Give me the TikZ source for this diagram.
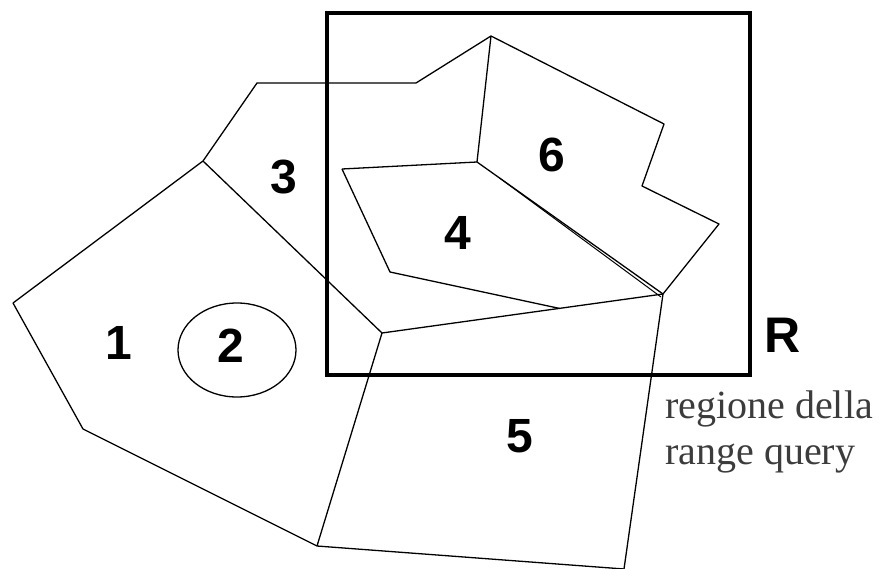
\documentclass[tikz,border=0pt]{standalone}
\usepackage{fontspec}
\setmainfont{Liberation Serif}
\setsansfont{Liberation Sans}
\usetikzlibrary{calc}
\definecolor{ink}{RGB}{60,60,60}

\begin{document}
\begin{tikzpicture}[
  x=1pt, y=-1pt,
  edge/.style={draw=black, line width=1.3pt, line join=round},
  query/.style={draw=black, line width=4.6pt, line join=miter},
  cell/.style={font=\sffamily\bfseries\fontsize{48}{48}\selectfont, inner sep=0pt},
  caption/.style={font=\fontsize{40}{46}\selectfont, text=ink, inner sep=0pt, anchor=base west}
]
\useasboundingbox (0,0) rectangle (882,569);

% Vertices of the partition.
\coordinate (a) at (13,303);
\coordinate (b) at (203,161);
\coordinate (c) at (257,83);
\coordinate (d) at (416,83);
\coordinate (e) at (491,36);
\coordinate (f) at (664,124);
\coordinate (g) at (642,186);
\coordinate (h) at (719,224);
\coordinate (i) at (663,294);
\coordinate (t) at (624,569);
\coordinate (k) at (317,546);
\coordinate (l) at (83,429);
\coordinate (m) at (382,333);
\coordinate (n) at (390,272);
\coordinate (p) at (342,169);
\coordinate (q) at (477,162);
\coordinate (s) at ($(m)!0.631!(i)$);

% Outer border.
\draw[edge] (a) -- (b) -- (c) -- (d) -- (e) -- (f) -- (g) -- (h) -- (i) -- (t);
\draw[edge] (a) -- (l) -- (k) -- (t);

% Inner borders.
\draw[edge] (b) -- (m) -- (k);
\draw[edge] (m) -- (s) -- (i);
\draw[edge] (e) -- (q);
\draw[edge] (p) -- (q);
\draw[edge] (p) -- (n) -- (s);

% Border 4/6 is drawn twice.
\draw[edge] (q) -- (i);
\draw[edge, line width=1pt] ($(q)!0.12!(i)$) -- ([xshift=-2pt,yshift=-3pt]i);

% Region 2 lies inside region 1.
\draw[edge] (237,350) ellipse [x radius=59, y radius=47];

% Query window.
\draw[query] (327,13) rectangle (750,375);

% Region numbers.
\node[cell] (one)   at (119,343) {1};
\node[cell] (two)   at (231,346) {2};
\node[cell] (three) at (284,177) {3};
\node[cell] (four)  at (458,233) {4};
\node[cell] (five)  at (520,436) {5};
\node[cell] (six)   at (552,155) {6};
\node[cell, font=\sffamily\bfseries\fontsize{50}{50}\selectfont] (rlabel) at (783,335) {R};

% Caption of the window.
\node[caption] (caption1) at (665,418) {regione della};
\node[caption] (caption2) at (665,464) {range query};

\end{tikzpicture}
\end{document}
